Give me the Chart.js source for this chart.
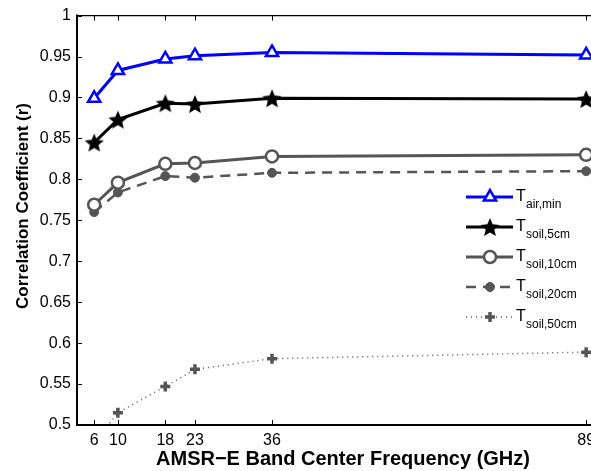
<!DOCTYPE html>
<html>
<head>
<meta charset="utf-8">
<script src="https://cdn.jsdelivr.net/npm/chart.js@4"></script>
<style>
  html, body { margin: 0; padding: 0; background: #fff; overflow: hidden; }
  #wrap { width: 620px; height: 471px; }
</style>
</head>
<body>
<div id="wrap"><canvas id="c" width="620" height="471"></canvas></div>
<script>
// Data
const freqs = [6, 10, 18, 23, 36, 89];
const tAirMin = [0.899, 0.933, 0.947, 0.951, 0.955, 0.952];
const tSoil5 = [0.845, 0.873, 0.893, 0.892, 0.899, 0.898];
const tSoil10 = [0.769, 0.796, 0.819, 0.820, 0.828, 0.830];
const tSoil20 = [0.760, 0.784, 0.804, 0.802, 0.808, 0.810];
const tSoil50 = [0.478, 0.515, 0.547, 0.568, 0.581, 0.589];
const yTicks = [0.5, 0.55, 0.6, 0.65, 0.7, 0.75, 0.8, 0.85, 0.9, 0.95, 1];
const legendSubs = ["air,min", "soil,5cm", "soil,10cm", "soil,20cm", "soil,50cm"];

const GRAY = "#555555";
const FONT = "'Liberation Sans', Arial, Helvetica, sans-serif";

// filled five point star used as a marker
function makeStar(r, color) {
  const size = Math.ceil(r * 2 + 2);
  const cv = document.createElement("canvas");
  cv.width = size;
  cv.height = size;
  const g = cv.getContext("2d");
  const c = size / 2;
  g.beginPath();
  for (let i = 0; i < 10; i++) {
    const rad = i % 2 === 0 ? r : r * 0.45;
    const a = -Math.PI / 2 + (i * Math.PI) / 5;
    const px = c + rad * Math.cos(a);
    const py = c + 1 + rad * Math.sin(a);
    if (i === 0) g.moveTo(px, py);
    else g.lineTo(px, py);
  }
  g.closePath();
  g.fillStyle = color;
  g.fill();
  return cv;
}
const star = makeStar(10, "#000");

const pts = (vals) => freqs.map((f, i) => ({ x: f, y: vals[i] }));

const datasets = [
  {
    data: pts(tAirMin), borderColor: "#0000ff", borderWidth: 3,
    pointStyle: "triangle", pointRadius: 7, pointBorderWidth: 2.5,
    pointBorderColor: "#0000ff", pointBackgroundColor: "#ffffff"
  },
  {
    data: pts(tSoil5), borderColor: "#000000", borderWidth: 3,
    pointStyle: star, pointRadius: 10
  },
  {
    data: pts(tSoil10), borderColor: GRAY, borderWidth: 3,
    pointStyle: "circle", pointRadius: 6, pointBorderWidth: 2.5,
    pointBorderColor: GRAY, pointBackgroundColor: "#ffffff"
  },
  {
    data: pts(tSoil20), borderColor: GRAY, borderWidth: 2.5, borderDash: [10, 7],
    pointStyle: "circle", pointRadius: 4.5, pointBorderWidth: 1,
    pointBorderColor: GRAY, pointBackgroundColor: GRAY
  },
  {
    data: pts(tSoil50), borderColor: GRAY, borderWidth: 1.5, borderDash: [1, 4],
    pointStyle: "cross", pointRadius: 5, pointBorderWidth: 3.5,
    pointBorderColor: GRAY, pointBackgroundColor: GRAY
  }
];
datasets.forEach(d => { d.tension = 0; d.fill = false; });

// axes box, inward ticks, titles and the custom legend
const decor = {
  id: "decor",
  beforeDatasetsDraw(chart) {
    const { ctx, chartArea: a, scales } = chart;
    ctx.save();
    ctx.strokeStyle = "#000";
    ctx.lineWidth = 1;
    ctx.beginPath();
    freqs.forEach(f => {
      const x = Math.round(scales.x.getPixelForValue(f)) + 0.5;
      ctx.moveTo(x, a.bottom); ctx.lineTo(x, a.bottom - 5);
      ctx.moveTo(x, a.top); ctx.lineTo(x, a.top + 5);
    });
    yTicks.forEach(v => {
      const y = Math.round(scales.y.getPixelForValue(v)) + 0.5;
      ctx.moveTo(a.left, y); ctx.lineTo(a.left + 5, y);
      ctx.moveTo(a.right, y); ctx.lineTo(a.right - 5, y);
    });
    ctx.stroke();
    ctx.restore();
  },
  afterDraw(chart) {
    const { ctx, chartArea: a } = chart;
    ctx.save();
    ctx.strokeStyle = "#000";
    ctx.lineWidth = 1.2;
    ctx.beginPath();
    ctx.moveTo(a.left, a.top); ctx.lineTo(a.right, a.top);
    ctx.lineTo(a.right, a.bottom);
    ctx.stroke();
    ctx.lineWidth = 2;
    ctx.beginPath();
    ctx.moveTo(a.left, a.top - 1); ctx.lineTo(a.left, a.bottom);
    ctx.lineTo(a.right, a.bottom);
    ctx.stroke();

    // axis titles
    ctx.fillStyle = "#000";
    ctx.textAlign = "center";
    ctx.textBaseline = "alphabetic";
    ctx.font = "bold 20px " + FONT;
    ctx.fillText("AMSR\u2212E Band Center Frequency (GHz)", 343, 465);
    ctx.translate(28, 206);
    ctx.rotate(-Math.PI / 2);
    ctx.font = "bold 17px " + FONT;
    ctx.fillText("Correlation Coefficient (r)", 0, 0);
    ctx.restore();

    // legend lines, markers and labels
    chart.data.datasets.forEach((d, i) => {
      const y = 197 + i * 30;
      ctx.save();
      ctx.strokeStyle = d.borderColor;
      ctx.lineWidth = d.borderWidth;
      ctx.setLineDash(d.borderDash || []);
      ctx.beginPath();
      ctx.moveTo(466, y); ctx.lineTo(513, y);
      ctx.stroke();
      ctx.setLineDash([]);
      ctx.fillStyle = d.pointBackgroundColor || d.borderColor;
      ctx.strokeStyle = d.pointBorderColor || d.borderColor;
      ctx.lineWidth = d.pointBorderWidth || 1;
      Chart.helpers.drawPoint(ctx, {
        pointStyle: d.pointStyle, radius: d.pointRadius, rotation: 0,
        borderWidth: d.pointBorderWidth || 1
      }, 490, y);
      ctx.fillStyle = "#000";
      ctx.textAlign = "left";
      ctx.font = "16px " + FONT;
      ctx.fillText("T", 516, y + 4);
      ctx.font = "12px " + FONT;
      ctx.fillText(legendSubs[i], 526, y + 11);
      ctx.restore();
    });
  }
};

new Chart(document.getElementById("c"), {
  type: "line",
  data: { datasets },
  options: {
    responsive: false,
    animation: false,
    layout: { padding: { top: 13, right: 22, left: 0, bottom: 0 } },
    plugins: { legend: { display: false }, tooltip: { enabled: false } },
    scales: {
      x: {
        type: "linear", min: 3.1, max: 91,
        grid: { display: false, drawTicks: false }, border: { display: false },
        afterBuildTicks: s => { s.ticks = freqs.map(v => ({ value: v })); },
        afterFit: s => { s.height = 46; },
        ticks: {
          autoSkip: false, maxRotation: 0, padding: 6, color: "#000",
          font: { family: FONT, size: 16 },
          callback: v => String(v)
        }
      },
      y: {
        min: 0.5, max: 1,
        grid: { display: false, drawTicks: false }, border: { display: false },
        afterBuildTicks: s => { s.ticks = yTicks.map(v => ({ value: v })); },
        afterFit: s => { s.width = 77; },
        ticks: {
          padding: 6, color: "#000",
          font: { family: FONT, size: 16 },
          callback: v => String(parseFloat(v.toFixed(2)))
        }
      }
    }
  }
  ,
  plugins: [decor]
});
</script>
</body>
</html>
